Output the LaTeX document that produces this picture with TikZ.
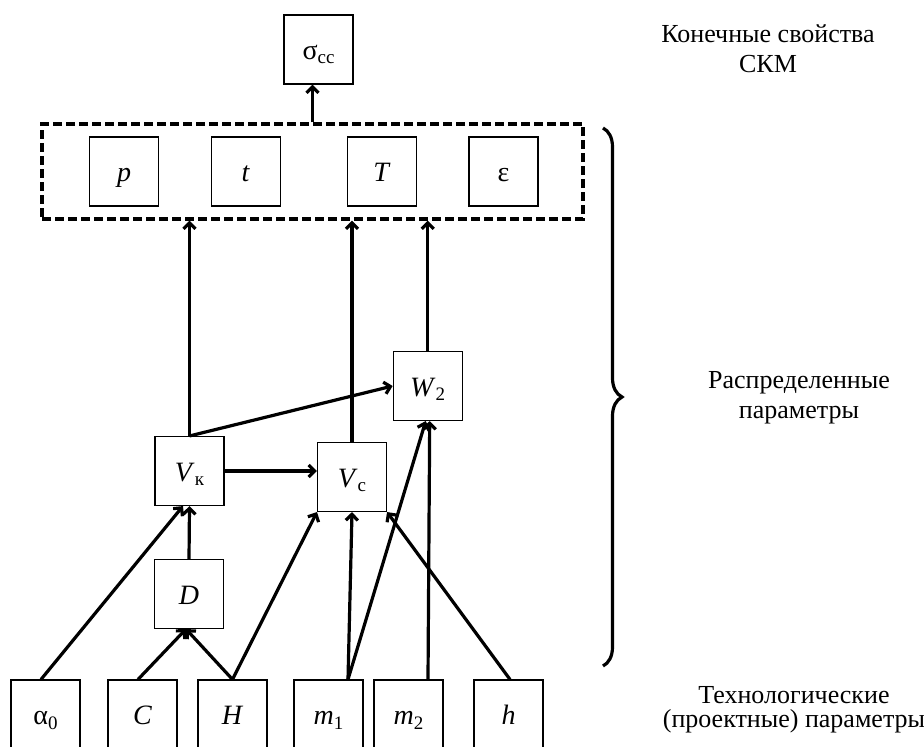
\documentclass[tikz,border=0pt]{standalone}
\usepackage{fontspec}
\setmainfont{Liberation Serif}
\usetikzlibrary{arrows.meta}
\usetikzlibrary{decorations.pathreplacing}
\newcommand{\lowidx}[1]{\raisebox{-0.35ex}{\fontsize{19}{19}\selectfont #1}}
\tikzset{
	param/.style={
		draw,
		rectangle,
		line width=1.1pt,
		minimum width=69pt,
		minimum height=69pt,
		inner sep=0pt,
		text height=20pt,
		text depth=0pt,
		font=\fontsize{28}{30}\selectfont,
	},
	group/.style={
		draw,
		rectangle,
		line width=3.2pt,
		dash pattern=on 9pt off 4pt,
		minimum width=541pt,
		minimum height=95pt,
		inner sep=0pt,
	},
	link/.style={
		line width=3.2pt,
		-{Straight Barb[length=6pt,width=12pt]}
	},
	levelnote/.style={
		align=center,
		font=\fontsize{26}{30}\selectfont,
	},
	levelbrace/.style={
		line width=3.2pt,
		decorate,
		decoration={brace,amplitude=19pt},
	},
}

\begin{document}
\begin{tikzpicture}[x=1pt,y=-1pt]
		\useasboundingbox (0,0) rectangle (924,747);

		\node[param]     	(sigma) at (318.5,49.5) {σ\lowidx{сс}};
		\node[group]     	(props) at (312.5,171.5) {};
		\node[param]     	(p) at (124,171.5) {\textit{p}};
		\node[param]     	(t) at (245.7,171.5) {\textit{t}};
		\node[param]     	(tt) at (382,171.5) {\textit{T}};
		\node[param]     	(eps) at (503.5,171.5) {ε};

		\node[param]     	(w2) at (427.7,386) {\textit{W}\lowidx{2}};
		\node[param]     	(vk) at (189.5,471) {\textit{V}\lowidx{к}};
		\node[param]     	(vc) at (352,477) {\textit{V}\lowidx{с}};
		\node[param]     	(d) at (189,594) {\textit{D}};

		\node[param]     	(a0) at (45.5,714.5) {α\lowidx{0}};
		\node[param]     	(c) at (142.5,714.5) {\textit{C}};
		\node[param]     	(hbig) at (232.5,714.5) {\textit{H}};
		\node[param]     	(m1) at (328.5,714.5) {\textit{m}\lowidx{1}};
		\node[param]     	(m2) at (408.5,714.5) {\textit{m}\lowidx{2}};
		\node[param]     	(hsm) at (508.5,714.5) {\textit{h}};

		\draw[link] 		(props.north) -- (props.north |- sigma.south);
		\draw[link] 		(vk.north) -- (vk.north |- props.south);
		\draw[link] 		(vk.north) -- (w2.west);
		\draw[link] 		(vc.north) -- (vc.north |- props.south);
		\draw[link] 		(w2.north) -- (w2.north |- props.south);
		\draw[link] 		(vk.east) -- (vk.east -| vc.west);

		\draw[link] 		([xshift=-4.5pt]a0.north) -- ([xshift=-6.5pt]vk.south);
		\draw[link] 		(d.north) -- (vk.south);
		\draw[link] 		([xshift=-4.5pt]c.north) -- ([xshift=-3pt]d.south);
		\draw[link] 		(hbig.north) -- ([xshift=-3pt]d.south);
		\draw[link] 		(hbig.north) -- (vc.south west);
		\draw[link] 		([xshift=19.5pt]m1.north) -- (vc.south);
		\draw[link] 		([xshift=19.5pt]m1.north) -- ([xshift=-2pt]w2.south);
		\draw[link] 		([xshift=19.5pt]m2.north) -- ([xshift=2pt]w2.south);
		\draw[link] 		([xshift=1.5pt]hsm.north) -- (vc.south east);

		\draw[levelbrace] 	(603,128) -- (603,666);

		\node[levelnote] 	(final) at (768,49) {Конечные свойства\\СКМ};
		\node[levelnote] 	(distr) at (799,398) {Распределенные\\параметры};
		\node[levelnote, font=\fontsize{26}{24}\selectfont] (tech) at (794,710) {Технологические\\(проектные) параметры};

	\end{tikzpicture}
\end{document}
